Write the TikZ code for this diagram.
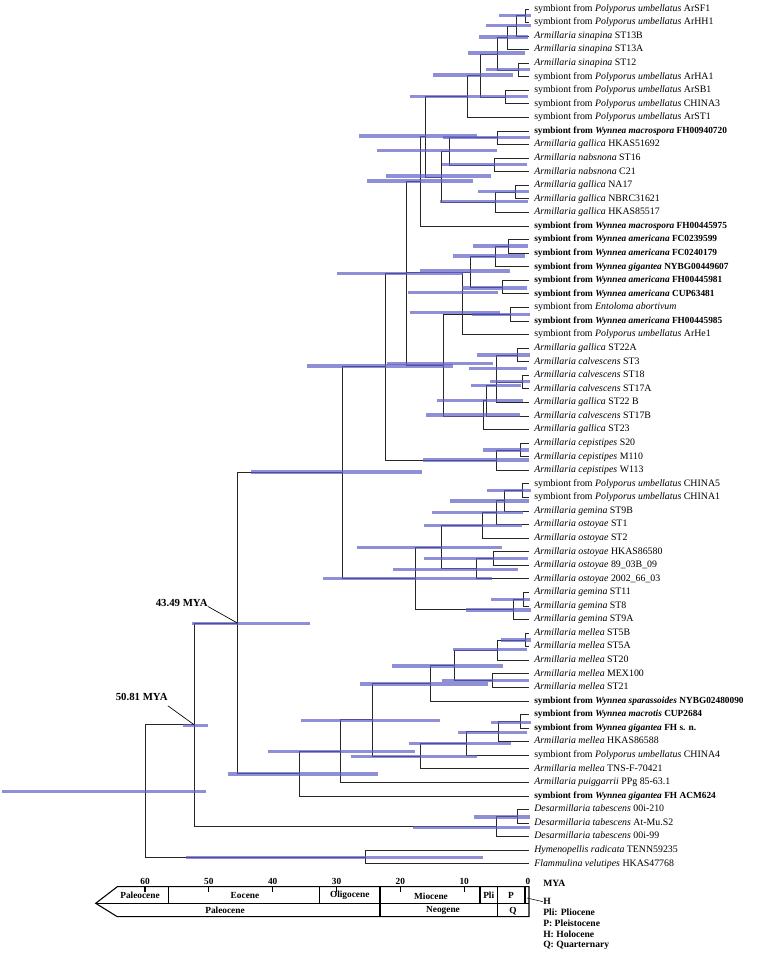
\documentclass[tikz,border=0pt]{standalone}
\usepackage{fontspec}
\setmainfont{Liberation Serif}
\definecolor{barblue}{RGB}{95,95,200}
\begin{document}
\begin{tikzpicture}[x=0.75pt,y=-0.75pt,
  br/.style={draw=black!85,line width=0.75pt},
  bar/.style={draw=barblue,draw opacity=0.7,line width=2.5pt},
  lab/.style={anchor=west,inner xsep=3.75pt,inner ysep=0pt,text height=4.8pt,text depth=1.5pt,font=\fontsize{7.4}{8}\selectfont},
  labb/.style={lab,font=\bfseries\fontsize{7.0}{8}\selectfont},
  mya/.style={inner sep=0pt,font=\bfseries\fontsize{8.1}{9}\selectfont},
  axl/.style={inner sep=0pt,font=\bfseries\fontsize{7}{8}\selectfont},
  leg/.style={anchor=west,inner sep=0pt,font=\bfseries\fontsize{7.2}{8}\selectfont}]
\useasboundingbox (0,0) rectangle (760,953);
% leaves
\foreach \i in {1,...,64} \coordinate (l\i) at (529,{9+(\i-1)*13.57});
% internal nodes
\coordinate (n12) at (525,15.8);
\coordinate (n13) at (516,26);
\coordinate (n14) at (507.7,37.9);
\coordinate (n56) at (518.7,70.1);
\coordinate (n16) at (497.3,54);
\coordinate (n78) at (505.3,97.2);
\coordinate (n18) at (480,75.6);
\coordinate (n19) at (467.7,96.6);
\coordinate (n1011) at (497.7,137.9);
\coordinate (n1213) at (494,165.1);
\coordinate (nA) at (449,151.5);
\coordinate (n1415) at (515,192.2);
\coordinate (n1416) at (495,202.4);
\coordinate (nB) at (441,177);
\coordinate (nC) at (425,136.8);
\coordinate (nD) at (420,181.5);
\coordinate (n1819) at (508.7,246.5);
\coordinate (n1820) at (495,256.7);
\coordinate (n2122) at (502,287.2);
\coordinate (nE) at (470.7,272);
\coordinate (nF) at (462.3,272);
\coordinate (n2324) at (510.7,314.3);
\coordinate (n2627) at (517.3,355);
\coordinate (n2829) at (522.7,382.2);
\coordinate (nK) at (496.7,385);
\coordinate (nL) at (486.7,400);
\coordinate (nM) at (483.3,416.1);
\coordinate (nX) at (443.3,365.2);
\coordinate (nG) at (406.7,273);
\coordinate (n3334) at (520.7,450);
\coordinate (nN) at (496,460.2);
\coordinate (nI) at (385.7,366.8);
\coordinate (n3637) at (522,490.7);
\coordinate (n3638) at (504.3,500.9);
\coordinate (n3639) at (496,512.8);
\coordinate (n3640) at (482,525.5);
\coordinate (n4142) at (493.3,558.6);
\coordinate (nO) at (476.7,568.8);
\coordinate (nP) at (441,547.2);
\coordinate (n4445) at (523.3,599.3);
\coordinate (n4446) at (513.3,609.5);
\coordinate (nQ) at (415,578.4);
\coordinate (nJ) at (342.3,472.6);
\coordinate (n4748) at (525,640);
\coordinate (nAH) at (497.7,650.2);
\coordinate (nAI) at (492.7,680.7);
\coordinate (nAG) at (454,665.5);
\coordinate (nAB) at (430,683.3);
\coordinate (nAF) at (520,721.4);
\coordinate (nAE) at (498.3,731.6);
\coordinate (nAD) at (466.7,743.5);
\coordinate (nAC) at (420,756.2);
\coordinate (nAA) at (372.7,719.8);
\coordinate (nZ) at (340.7,751.2);
\coordinate (nS) at (299,773.6);
\coordinate (nR) at (237.5,623.1);
\coordinate (n6061) at (517.3,816.4);
\coordinate (nW) at (496.7,826.6);
\coordinate (nT) at (194.3,724.9);
\coordinate (nV) at (365.7,857.1);
\coordinate (nU) at (145.7,791);
% branches
\foreach \p/\c in {n12/l1,n12/l2,n13/n12,n13/l3,n14/n13,n14/l4,n56/l5,n56/l6,n16/n14,n16/n56,
  n78/l7,n78/l8,n18/n16,n18/n78,n19/n18,n19/l9,n1011/l10,n1011/l11,n1213/l12,n1213/l13,
  nA/n1011,nA/n1213,n1415/l14,n1415/l15,n1416/n1415,n1416/l16,nB/nA,nB/n1416,nC/n19,nC/nB,
  nD/nC,nD/l17,n1819/l18,n1819/l19,n1820/n1819,n1820/l20,n2122/l21,n2122/l22,nE/n1820,nE/n2122,
  nF/nE,nF/l25,n2324/l23,n2324/l24,n2627/l26,n2627/l27,n2829/l28,n2829/l29,nK/n2627,nK/n2829,nK/l30,
  nL/nK,nL/l31,nM/nL,nM/l32,nX/n2324,nX/nM,nG/nD,nG/nF,nG/nX,n3334/l33,n3334/l34,nN/n3334,nN/l35,
  nI/nG,nI/nN,n3637/l36,n3637/l37,n3638/n3637,n3638/l38,n3639/n3638,n3639/l39,n3640/n3639,n3640/l40,
  n4142/l41,n4142/l42,nO/n4142,nO/l43,nP/n3640,nP/nO,n4445/l44,n4445/l45,n4446/n4445,n4446/l46,
  nQ/nP,nQ/n4446,nJ/nI,nJ/nQ,n4748/l47,n4748/l48,nAH/n4748,nAH/l49,nAI/l50,nAI/l51,nAG/nAH,nAG/nAI,
  nAB/nAG,nAB/l52,nAF/l53,nAF/l54,nAE/nAF,nAE/l55,nAD/nAE,nAD/l56,nAC/nAD,nAC/l57,nAA/nAB,nAA/nAC,
  nZ/nAA,nZ/l58,nS/nZ,nS/l59,nR/nJ,nR/nS,n6061/l60,n6061/l61,nW/n6061,nW/l62,nT/nR,nT/nW,
  nV/l63,nV/l64,nU/nT,nU/nV}
  \draw[br] (\p) |- (\c);
% confidence bars
\foreach \y/\a/\b in {15.8/499/530.7,25.5/485.7/530.7,37/479/528,53/468/525,69.5/485.7/530,
  75/432.7/513.3,96.7/410/528,136/359/477,137.5/443/530,150.7/376.7/496.7,164.5/441.7/527,
  176/385.7/490.7,181/367.3/472.7,191.7/478/529,201.7/440/528,246/473/528,256/453/525,
  271/420/510,273.5/336.7/463,288/461.7/527.3,292.7/407.7/497.7,312.5/410/500,314.8/471.7/530,
  355/476.7/530,363.3/386.7/493.3,366/306.7/453.3,368.3/469.3/526.7,381.7/490/530,385.5/470.7/520.7,
  400.7/437.3/522.7,415/426/520,450/483/529,460/423/529,472/251/421.7,490.7/486.7/530.7,
  501/450/529,512.7/432/522.7,525.7/424/521.7,547.3/357/501.7,558.3/424/528,569.3/392.7/517.7,
  578.3/323/491.7,599.3/491/530,610/466/530.7,623.3/191.7/310,640/501/530.7,649.3/452.7/526.7,
  666/392.3/503.3,680.7/441.7/529.3,684/360/488.3,720.7/301/440,722.7/491/530.7,725.3/182.7/208.3,
  732.3/458/526.7,743.3/409/510.7,751.7/268.3/415,756.7/350.7/477.3,774/227.7/377.7,
  791.7/1.7/205.7,817/474/530,827.3/412.7/530,857.5/186/483.3}
  \draw[bar] (\a,\y) -- (\b,\y);
% tip labels
\node[lab] (t1) at (l1) {symbiont from \textit{Polyporus umbellatus} ArSF1};
\node[lab] (t2) at (l2) {symbiont from \textit{Polyporus umbellatus} ArHH1};
\node[lab] (t3) at (l3) {\textit{Armillaria sinapina} ST13B};
\node[lab] (t4) at (l4) {\textit{Armillaria sinapina} ST13A};
\node[lab] (t5) at (l5) {\textit{Armillaria sinapina} ST12};
\node[lab] (t6) at (l6) {symbiont from \textit{Polyporus umbellatus} ArHA1};
\node[lab] (t7) at (l7) {symbiont from \textit{Polyporus umbellatus} ArSB1};
\node[lab] (t8) at (l8) {symbiont from \textit{Polyporus umbellatus} CHINA3};
\node[lab] (t9) at (l9) {symbiont from \textit{Polyporus umbellatus} ArST1};
\node[labb] (t10) at (l10) {symbiont from \textit{Wynnea macrospora} FH00940720};
\node[lab] (t11) at (l11) {\textit{Armillaria gallica} HKAS51692};
\node[lab] (t12) at (l12) {\textit{Armillaria nabsnona} ST16};
\node[lab] (t13) at (l13) {\textit{Armillaria nabsnona} C21};
\node[lab] (t14) at (l14) {\textit{Armillaria gallica} NA17};
\node[lab] (t15) at (l15) {\textit{Armillaria gallica} NBRC31621};
\node[lab] (t16) at (l16) {\textit{Armillaria gallica} HKAS85517};
\node[labb] (t17) at (l17) {symbiont from \textit{Wynnea macrospora} FH00445975};
\node[labb] (t18) at (l18) {symbiont from \textit{Wynnea americana} FC0239599};
\node[labb] (t19) at (l19) {symbiont from \textit{Wynnea americana} FC0240179};
\node[labb] (t20) at (l20) {symbiont from \textit{Wynnea gigantea} NYBG00449607};
\node[labb] (t21) at (l21) {symbiont from \textit{Wynnea americana} FH00445981};
\node[labb] (t22) at (l22) {symbiont from \textit{Wynnea americana} CUP63481};
\node[lab] (t23) at (l23) {symbiont from \textit{Entoloma abortivum}};
\node[labb] (t24) at (l24) {symbiont from \textit{Wynnea americana} FH00445985};
\node[lab] (t25) at (l25) {symbiont from \textit{Polyporus umbellatus} ArHe1};
\node[lab] (t26) at (l26) {\textit{Armillaria gallica} ST22A};
\node[lab] (t27) at (l27) {\textit{Armillaria calvescens} ST3};
\node[lab] (t28) at (l28) {\textit{Armillaria calvescens} ST18};
\node[lab] (t29) at (l29) {\textit{Armillaria calvescens} ST17A};
\node[lab] (t30) at (l30) {\textit{Armillaria gallica} ST22 B};
\node[lab] (t31) at (l31) {\textit{Armillaria calvescens} ST17B};
\node[lab] (t32) at (l32) {\textit{Armillaria gallica} ST23};
\node[lab] (t33) at (l33) {\textit{Armillaria cepistipes} S20};
\node[lab] (t34) at (l34) {\textit{Armillaria cepistipes} M110};
\node[lab] (t35) at (l35) {\textit{Armillaria cepistipes} W113};
\node[lab] (t36) at (l36) {symbiont from \textit{Polyporus umbellatus} CHINA5};
\node[lab] (t37) at (l37) {symbiont from \textit{Polyporus umbellatus} CHINA1};
\node[lab] (t38) at (l38) {\textit{Armillaria gemina} ST9B};
\node[lab] (t39) at (l39) {\textit{Armillaria ostoyae} ST1};
\node[lab] (t40) at (l40) {\textit{Armillaria ostoyae} ST2};
\node[lab] (t41) at (l41) {\textit{Armillaria ostoyae} HKAS86580};
\node[lab] (t42) at (l42) {\textit{Armillaria ostoyae} 89\_03B\_09};
\node[lab] (t43) at (l43) {\textit{Armillaria ostoyae} 2002\_66\_03};
\node[lab] (t44) at (l44) {\textit{Armillaria gemina} ST11};
\node[lab] (t45) at (l45) {\textit{Armillaria gemina} ST8};
\node[lab] (t46) at (l46) {\textit{Armillaria gemina} ST9A};
\node[lab] (t47) at (l47) {\textit{Armillaria mellea} ST5B};
\node[lab] (t48) at (l48) {\textit{Armillaria mellea} ST5A};
\node[lab] (t49) at (l49) {\textit{Armillaria mellea} ST20};
\node[lab] (t50) at (l50) {\textit{Armillaria mellea} MEX100};
\node[lab] (t51) at (l51) {\textit{Armillaria mellea} ST21};
\node[labb] (t52) at (l52) {symbiont from \textit{Wynnea sparassoides} NYBG02480090};
\node[labb] (t53) at (l53) {symbiont from \textit{Wynnea macrotis} CUP2684};
\node[labb] (t54) at (l54) {symbiont from \textit{Wynnea gigantea} FH s. n.};
\node[lab] (t55) at (l55) {\textit{Armillaria mellea} HKAS86588};
\node[lab] (t56) at (l56) {symbiont from \textit{Polyporus umbellatus} CHINA4};
\node[lab] (t57) at (l57) {\textit{Armillaria mellea} TNS-F-70421};
\node[lab] (t58) at (l58) {\textit{Armillaria puiggarrii} PPg 85-63.1};
\node[labb] (t59) at (l59) {symbiont from \textit{Wynnea gigantea} FH ACM624};
\node[lab] (t60) at (l60) {\textit{Desarmillaria tabescens} 00i-210};
\node[lab] (t61) at (l61) {\textit{Desarmillaria tabescens} At-Mu.S2};
\node[lab] (t62) at (l62) {\textit{Desarmillaria tabescens} 00i-99};
\node[lab] (t63) at (l63) {\textit{Hymenopellis radicata} TENN59235};
\node[lab] (t64) at (l64) {\textit{Flammulina velutipes} HKAS47768};
% age annotations
\node[mya] (m43) at (181.7,602.5) {43.49 MYA};
\draw[black,line width=0.5pt] (m43.south east) -- (nR);
\node[mya] (m50) at (141.7,696.5) {50.81 MYA};
\draw[black,line width=0.5pt] ([yshift=-4pt]m50.south east) -- (nT);
% geological time scale
\draw[line width=0.8pt] (117.3,886.7) -- (529,886.7) -- (529,916.7) -- (117.3,916.7) -- (95.7,903.3) -- cycle;
\draw[line width=0.8pt] (95.7,903.3) -- (529,903.3);
\foreach \x in {168.3,319.3,380,480,497.3,525} \draw[line width=0.8pt] (\x,886.7) -- (\x,903.3);
\foreach \x in {380,497.7} \draw[line width=0.8pt] (\x,903.3) -- (\x,916.7);
\foreach \t in {60,50,40,30,20,10} {
  \draw[line width=0.8pt] ({528-6.383*\t},886.7) -- ({528-6.383*\t},892.3);
  \node[axl] (tk\t) at ({528-6.383*\t},881) {\t};
}
\node[axl] (tk0) at (528,881) {0};
\node[axl] (e1) at (140,895.5) {Paleocene};
\node[axl] (e2) at (245,895.5) {Eocene};
\node[axl] (e3) at (349.7,895.5) {Oligocene};
\node[axl] (e4) at (431,896.5) {Miocene};
\node[axl] (e5) at (488.7,895.5) {Pli};
\node[axl] (e6) at (511,895) {P};
\node[axl] (p1) at (225,910.5) {Paleocene};
\node[axl] (p2) at (443,910) {Neogene};
\node[axl] (p3) at (513,911) {Q};
\node[leg] (myal) at (543,883) {MYA};
\node[leg] (hl) at (543,901.7) {H};
\draw[line width=0.4pt] (527,898) -- (hl.west);
\node[leg] (g1) at (543,912.5) {Pli: Pliocene};
\node[leg] (g2) at (543,923.5) {P: Pleistocene};
\node[leg] (g3) at (543,934.3) {H: Holocene};
\node[leg] (g4) at (543,945) {Q: Quarternary};
\end{tikzpicture}
\end{document}
